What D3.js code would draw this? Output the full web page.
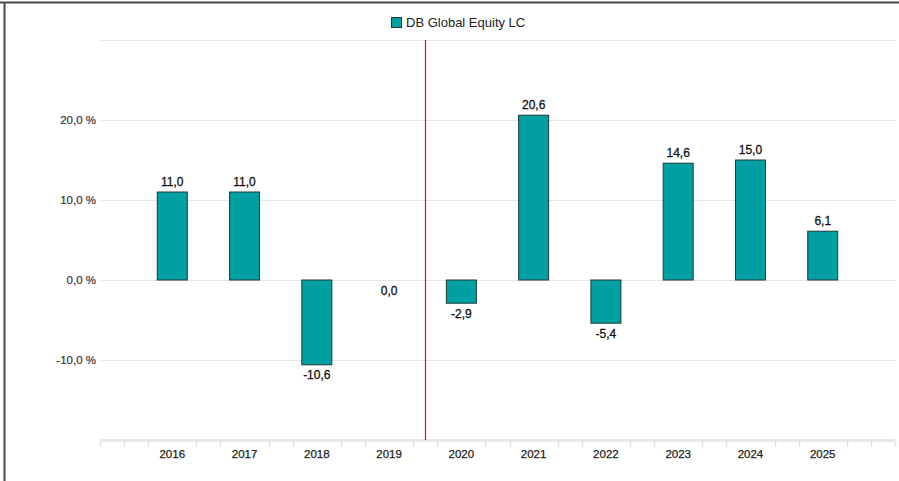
<!DOCTYPE html>
<html>
<head>
<meta charset="utf-8">
<script src="https://cdn.jsdelivr.net/npm/d3@7"></script>
<style>
  html, body { margin: 0; padding: 0; background: #fff; }
  svg { display: block; font-family: "Liberation Sans", Arial, sans-serif; }
</style>
</head>
<body>
<svg id="chart" width="899" height="481"></svg>
<script>
const years = [2016, 2017, 2018, 2019, 2020, 2021, 2022, 2023, 2024, 2025];
const values = [11.0, 11.0, -10.6, 0.0, -2.9, 20.6, -5.4, 14.6, 15.0, 6.1];
const seriesName = "DB Global Equity LC";
const yTicks = [-20, -10, 0, 10, 20, 30];
const yLabelTicks = [-10, 0, 10, 20];
const markerYear = 2019.5;

(function () {
const svg = d3.select("#chart");
const W = 899, H = 481;
const pl = 100, pr = 895, pt = 40, pb = 440;

const fmt = v => v.toFixed(1).replace(".", ",");

// frame
svg.append("line").attr("x1", 0).attr("x2", W).attr("y1", 2.5).attr("y2", 2.5)
  .attr("stroke", "#4a4a4a").attr("stroke-width", 2);
svg.append("line").attr("x1", 4.5).attr("x2", 4.5).attr("y1", 2).attr("y2", H)
  .attr("stroke", "#4a4a4a").attr("stroke-width", 2);

const x = d3.scaleLinear().domain([2015, 2026]).range([pl, pr]);
const y = d3.scaleLinear().domain([-20, 30]).range([pb, pt]);
const barW = 30;

// gridlines
svg.append("g").selectAll("line").data(yTicks.filter(t => t !== -20)).join("line")
  .attr("x1", pl).attr("x2", pr)
  .attr("y1", d => y(d) + 0.5).attr("y2", d => y(d) + 0.5)
  .attr("stroke", "#e6e6e6").attr("stroke-width", 1);

// y labels
svg.append("g").selectAll("text").data(yLabelTicks).join("text")
  .attr("x", 96).attr("y", d => y(d)).attr("dy", "0.35em")
  .attr("text-anchor", "end").attr("font-size", 11.5).attr("fill", "#333")
  .attr("stroke", "#333").attr("stroke-width", 0.2)
  .text(d => fmt(d) + " %");

// x axis line
svg.append("line").attr("x1", pl).attr("x2", pr)
  .attr("y1", pb + 0.5).attr("y2", pb + 0.5)
  .attr("stroke", "#e8e8e8").attr("stroke-width", 3);

// minor ticks every 1/3 year
const minor = d3.range(0, 34).map(i => 2015 + i / 3);
svg.append("g").selectAll("line").data(minor.filter(v => !years.some(yy => Math.abs(yy - v) < 1e-6))).join("line")
  .attr("x1", d => Math.round(x(d)) + 0.5).attr("x2", d => Math.round(x(d)) + 0.5)
  .attr("y1", pb + 1).attr("y2", pb + 7)
  .attr("stroke", "#e0e0e0").attr("stroke-width", 1.5);

// x labels
svg.append("g").selectAll("text").data(years).join("text")
  .attr("x", d => x(d)).attr("y", pb + 10).attr("dy", "0.71em")
  .attr("text-anchor", "middle").attr("font-size", 11.5).attr("fill", "#222")
  .attr("stroke", "#222").attr("stroke-width", 0.25)
  .text(d => d);

// bars
svg.append("g").selectAll("rect").data(years.map((yr, i) => ({yr, v: values[i]})).filter(d => d.v !== 0)).join("rect")
  .attr("x", d => x(d.yr) - barW / 2)
  .attr("y", d => y(Math.max(0, d.v)))
  .attr("width", barW)
  .attr("height", d => Math.abs(y(d.v) - y(0)))
  .attr("fill", "#00a0a2").attr("stroke", "#1f3838").attr("stroke-width", 1);

// value labels
svg.append("g").selectAll("text").data(years.map((yr, i) => ({yr, v: values[i]}))).join("text")
  .attr("x", d => x(d.yr))
  .attr("y", d => d.v > 0 ? y(d.v) - 6 : y(d.v) + 6)
  .attr("dy", d => d.v > 0 ? "0" : "0.71em")
  .attr("text-anchor", "middle").attr("font-size", 12).attr("fill", "#111")
  .attr("stroke", "#111").attr("stroke-width", 0.3)
  .text(d => fmt(d.v));

// marker line
const mx = Math.round(x(markerYear)) + 0.5;
svg.append("line").attr("x1", mx).attr("x2", mx)
  .attr("y1", pt).attr("y2", pb)
  .attr("stroke", "#ff0000").attr("stroke-width", 1.2);

// legend
const lg = svg.append("g").attr("transform", "translate(391,17)");
lg.append("rect").attr("x", 0.5).attr("y", 0.5).attr("width", 10).attr("height", 10)
  .attr("fill", "#00a0a2").attr("stroke", "#1f3838");
lg.append("text").attr("x", 15).attr("y", 5.5).attr("dy", "0.35em")
  .attr("font-size", 13).attr("fill", "#222").text(seriesName);
})();
</script>
</body>
</html>
